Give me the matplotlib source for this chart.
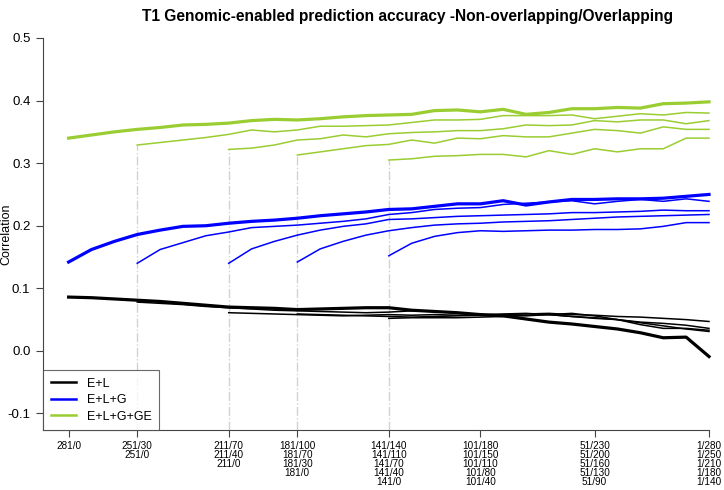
import numpy as np
import matplotlib
matplotlib.use("Agg")
import matplotlib.pyplot as plt

plt.rcParams['font.family'] = ['Liberation Sans', 'DejaVu Sans']

# start points (overlap count) of each curve and the x tick labels
starts = [0, 30, 70, 100, 140]
tick_pos = [0, 30, 70, 100, 140, 180, 230, 280]
tick_labels = [
    "281/0",
    "251/30\n251/0",
    "211/70\n211/40\n211/0",
    "181/100\n181/70\n181/30\n181/0",
    "141/140\n141/110\n141/70\n141/40\n141/0",
    "101/180\n101/150\n101/110\n101/80\n101/40",
    "51/230\n51/200\n51/160\n51/130\n51/90",
    "1/280\n1/250\n1/210\n1/180\n1/140",
]

# E+L (black)
el_0 = [0.086, 0.085, 0.083, 0.081, 0.079, 0.076, 0.073, 0.070, 0.069, 0.068,
        0.066, 0.067, 0.068, 0.069, 0.069, 0.065, 0.063, 0.061, 0.058, 0.056,
        0.051, 0.046, 0.043, 0.039, 0.035, 0.029, 0.021, 0.022, -0.009]
el_30 = [0.078, 0.076, 0.074, 0.071, 0.069, 0.067, 0.065, 0.064, 0.063, 0.062,
         0.061, 0.062, 0.064, 0.063, 0.061, 0.058, 0.057, 0.056, 0.058, 0.055,
         0.052, 0.050, 0.046, 0.044, 0.041, 0.036]
el_70 = [0.061, 0.060, 0.059, 0.058, 0.057, 0.056, 0.057, 0.058, 0.057, 0.058,
         0.057, 0.058, 0.059, 0.060, 0.058, 0.055, 0.053, 0.050, 0.042, 0.036,
         0.036, 0.033]
el_100 = [0.059, 0.058, 0.057, 0.056, 0.055, 0.054, 0.055, 0.056, 0.057, 0.058,
          0.059, 0.060, 0.058, 0.057, 0.055, 0.054, 0.052, 0.050, 0.047]
el_140 = [0.052, 0.053, 0.053, 0.053, 0.054, 0.055, 0.057, 0.058, 0.060, 0.056,
          0.050, 0.045, 0.040, 0.035, 0.031]

# E+L+G (blue)
elg_0 = [0.142, 0.162, 0.175, 0.186, 0.193, 0.199, 0.200, 0.204, 0.207, 0.209,
         0.212, 0.216, 0.219, 0.222, 0.226, 0.227, 0.231, 0.235, 0.235, 0.240,
         0.233, 0.238, 0.242, 0.242, 0.243, 0.243, 0.244, 0.247, 0.250]
elg_30 = [0.140, 0.162, 0.173, 0.184, 0.190, 0.197, 0.199, 0.201, 0.204, 0.207,
          0.211, 0.218, 0.221, 0.226, 0.228, 0.229, 0.234, 0.236, 0.238, 0.240,
          0.235, 0.239, 0.242, 0.239, 0.243, 0.239]
elg_70 = [0.140, 0.163, 0.175, 0.185, 0.193, 0.199, 0.203, 0.210, 0.211, 0.213,
          0.215, 0.216, 0.217, 0.218, 0.219, 0.221, 0.221, 0.222, 0.223, 0.225,
          0.224, 0.224]
elg_100 = [0.142, 0.163, 0.175, 0.185, 0.192, 0.197, 0.201, 0.203, 0.204, 0.206,
           0.207, 0.208, 0.210, 0.212, 0.214, 0.215, 0.216, 0.217, 0.218]
elg_140 = [0.152, 0.172, 0.183, 0.189, 0.192, 0.191, 0.192, 0.193, 0.193, 0.194,
           0.194, 0.195, 0.199, 0.205, 0.205]

# E+L+G+GE (green)
elgge_0 = [0.340, 0.345, 0.350, 0.354, 0.357, 0.361, 0.362, 0.364, 0.368, 0.370,
           0.369, 0.371, 0.374, 0.376, 0.377, 0.378, 0.384, 0.385, 0.382, 0.386,
           0.378, 0.381, 0.387, 0.387, 0.389, 0.388, 0.395, 0.396, 0.398]
elgge_30 = [0.329, 0.333, 0.337, 0.341, 0.346, 0.353, 0.350, 0.353, 0.359, 0.359,
            0.360, 0.361, 0.365, 0.369, 0.369, 0.370, 0.376, 0.376, 0.376, 0.377,
            0.371, 0.375, 0.379, 0.377, 0.381, 0.380]
elgge_70 = [0.322, 0.324, 0.329, 0.337, 0.339, 0.345, 0.342, 0.347, 0.349, 0.350,
            0.352, 0.352, 0.355, 0.361, 0.360, 0.361, 0.368, 0.366, 0.369, 0.369,
            0.363, 0.368]
elgge_100 = [0.313, 0.318, 0.323, 0.328, 0.330, 0.337, 0.332, 0.340, 0.339, 0.344,
             0.342, 0.342, 0.348, 0.354, 0.352, 0.348, 0.358, 0.354, 0.354]
elgge_140 = [0.305, 0.307, 0.311, 0.312, 0.314, 0.314, 0.310, 0.320, 0.314, 0.323,
             0.318, 0.323, 0.323, 0.340, 0.340]

series = [
    ("E+L", "black", [el_0, el_30, el_70, el_100, el_140]),
    ("E+L+G", "blue", [elg_0, elg_30, elg_70, elg_100, elg_140]),
    ("E+L+G+GE", "yellowgreen", [elgge_0, elgge_30, elgge_70, elgge_100, elgge_140]),
]

fig = plt.figure(figsize=(7.24, 4.90), dpi=100)
ax = fig.add_axes([43/724, 60/490, 666/724, 392/490])
ax.set_xlim(-11.2, 280)
ax.set_ylim(-0.1264, 0.5)

# vertical guide lines from the bottom up to the start of each green curve
ybot = ax.get_ylim()[0]
for s, vals in zip(starts[1:], series[2][2][1:]):
    ax.vlines(s, ybot, vals[0], colors="#d2d2d2", linestyles="dashdot",
              linewidth=1.0, zorder=1)

handles = []
for name, col, curves in series:
    for i, (s, vals) in enumerate(zip(starts, curves)):
        xs = s + 10 * np.arange(len(vals))
        lw = 2.3 if i == 0 else 1.1
        ln, = ax.plot(xs, vals, color=col, lw=lw, clip_on=False, zorder=3)
        if i == 0:
            handles.append(ln)

ax.set_xticks(tick_pos)
ax.set_xticklabels(tick_labels, fontsize=7.2, linespacing=0.86, va="top")
ax.set_yticks(np.arange(-0.1, 0.51, 0.1))
ax.set_yticklabels(["-0.1", "0.0", "0.1", "0.2", "0.3", "0.4", "0.5"], fontsize=9.5)
ax.tick_params(direction="out", length=5, width=0.8, color="#444444")
ax.tick_params(axis="x", pad=3)
ax.tick_params(axis="y", pad=4)
for side in ["top", "right"]:
    ax.spines[side].set_visible(False)
for side in ["left", "bottom"]:
    ax.spines[side].set_color("#444444")
    ax.spines[side].set_linewidth(0.8)

ax.set_ylabel("Correlation", fontsize=9)
ax.yaxis.set_label_coords(-0.046, 0.5)
fig.text(407/724, 1 - 16/490,
         "T1 Genomic-enabled prediction accuracy -Non-overlapping/Overlapping",
         fontsize=11.2, fontweight="bold", ha="center", va="center")

leg_lines = [plt.Line2D([], [], color=c, lw=1.8) for _, c, _ in series]
leg = ax.legend(leg_lines, [n for n, _, _ in series], loc="lower left",
                bbox_to_anchor=(0, 0), fontsize=9, frameon=True, fancybox=False,
                borderaxespad=0, handlelength=2.0, handletextpad=0.9,
                labelspacing=0.35, borderpad=0.6)
leg.get_frame().set_edgecolor("#444444")
leg.get_frame().set_linewidth(0.8)

fig.savefig("out.png", dpi=100)
